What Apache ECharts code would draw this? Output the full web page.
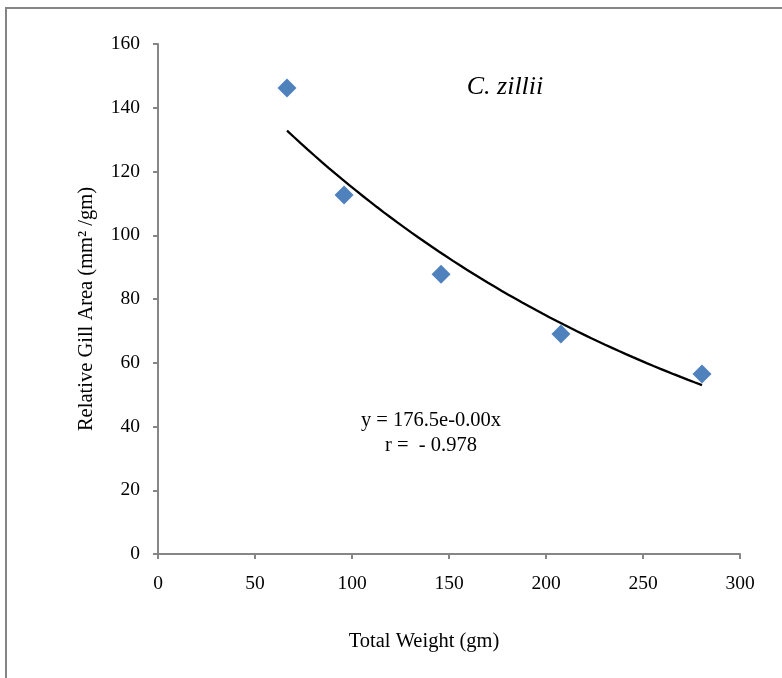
<!DOCTYPE html>
<html>
<head>
<meta charset="utf-8">
<script src="https://cdn.jsdelivr.net/npm/echarts@6/dist/echarts.min.js"></script>
<style>html,body{margin:0;padding:0;background:#fff;}#c{width:782px;height:678px;}</style>
</head>
<body>
<div id="c"></div>
<script>
// Data
var totalWeight = [66.5, 95.9, 145.9, 207.7, 280.4];
var relGillArea = [146.2, 112.6, 87.8, 69.0, 56.5];
var yTicks = [0, 20, 40, 60, 80, 100, 120, 140, 160];
var xTicks = [0, 50, 100, 150, 200, 250, 300];
var speciesLabel = 'C. zillii';
var equationText = 'y = 176.5e-0.00x';
var rText = 'r =  - 0.978';
var xTitle = 'Total Weight (gm)';
var yTitle = 'Relative Gill Area (mm² /gm)';

// Exponential trendline fitted from the data (least squares on ln y)
function expFit(xs, ys) {
  var n = xs.length, mx = 0, my = 0;
  for (var i = 0; i < n; i++) { mx += xs[i]; my += Math.log(ys[i]); }
  mx /= n; my /= n;
  var sxx = 0, sxy = 0;
  for (var j = 0; j < n; j++) {
    sxx += (xs[j] - mx) * (xs[j] - mx);
    sxy += (xs[j] - mx) * (Math.log(ys[j]) - my);
  }
  var b = sxy / sxx, a = my - b * mx;
  return function (x) { return Math.exp(a + b * x); };
}
var f = expFit(totalWeight, relGillArea);
var trend = [];
var x0 = totalWeight[0], x1 = totalWeight[totalWeight.length - 1];
for (var k = 0; k <= 60; k++) {
  var xv = x0 + (x1 - x0) * k / 60;
  trend.push([xv, f(xv)]);
}

var chart = echarts.init(document.getElementById('c'), null, {renderer: 'canvas'});
var font = '"Liberation Serif", "Times New Roman", serif';
var axisColor = '#868686';
chart.setOption({
  animation: false,
  backgroundColor: '#fff',
  grid: {left: 158, right: 42, top: 44, bottom: 124},
  xAxis: {
    type: 'value', min: 0, max: 300, interval: 50,
    axisLine: {lineStyle: {color: axisColor, width: 2}},
    axisTick: {show: true, length: 5, lineStyle: {color: axisColor, width: 2}},
    axisLabel: {fontFamily: font, fontSize: 19.5, color: '#000', margin: 20,
      formatter: function (v) { return xTicks.indexOf(v) >= 0 ? String(v) : ''; }},
    splitLine: {show: false}
  },
  yAxis: {
    type: 'value', min: 0, max: 160, interval: 20,
    axisLine: {show: true, lineStyle: {color: axisColor, width: 2}},
    axisTick: {show: true, length: 5, lineStyle: {color: axisColor, width: 2}},
    axisLabel: {fontFamily: font, fontSize: 19.5, color: '#000', margin: 18,
      formatter: function (v) { return yTicks.indexOf(v) >= 0 ? String(v) : ''; }},
    splitLine: {show: false}
  },
  series: [
    {
      type: 'line', data: trend, showSymbol: false, smooth: false,
      lineStyle: {color: '#000', width: 2.3}, z: 2, silent: true
    },
    {
      type: 'scatter', data: totalWeight.map(function (x, i) { return [x, relGillArea[i]]; }),
      symbol: 'diamond', symbolSize: [19, 19],
      itemStyle: {color: '#4F81BD', opacity: 1}, z: 3
    }
  ],
  graphic: [
    {type: 'rect', shape: {x: 6, y: 8, width: 820, height: 720},
     style: {fill: 'none', stroke: '#858585', lineWidth: 2}, silent: true},
    {type: 'text', x: 505, y: 87,
     style: {text: speciesLabel, font: 'italic 26px ' + font, fill: '#000', align: 'center', verticalAlign: 'middle'}},
    {type: 'text', x: 431, y: 421,
     style: {text: equationText, font: '20.5px ' + font, fill: '#000', align: 'center', verticalAlign: 'middle'}},
    {type: 'text', x: 431, y: 446,
     style: {text: rText, font: '20.5px ' + font, fill: '#000', align: 'center', verticalAlign: 'middle'}},
    {type: 'text', x: 424, y: 642,
     style: {text: xTitle, font: '20.5px ' + font, fill: '#000', align: 'center', verticalAlign: 'middle'}},
    {type: 'text', x: 87, y: 309, rotation: Math.PI / 2,
     style: {text: yTitle, font: '20.5px ' + font, fill: '#000', align: 'center', verticalAlign: 'middle'}}
  ]
});
</script>
</body>
</html>
